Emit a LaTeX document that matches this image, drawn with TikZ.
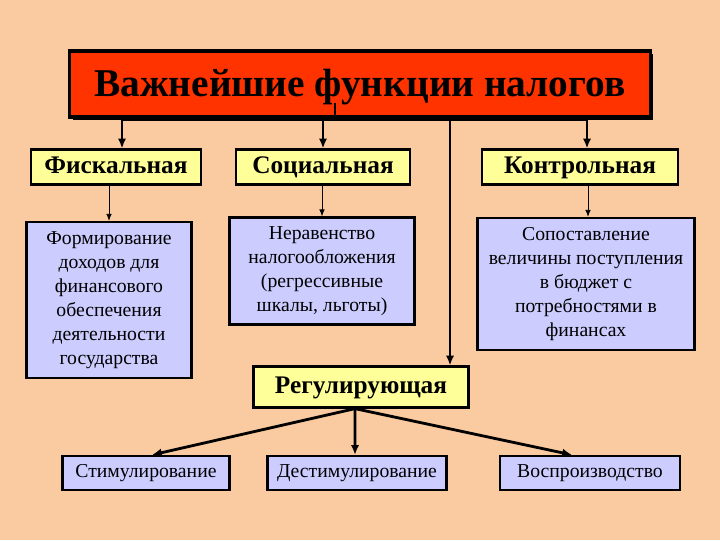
\documentclass[tikz,border=0pt]{standalone}
\usepackage{fontspec}
\setmainfont{Liberation Serif}
\usetikzlibrary{arrows.meta,positioning,shadows}
\definecolor{nlbg}{RGB}{250,202,160}
\definecolor{nlred}{RGB}{255,51,0}
\definecolor{nlyellow}{RGB}{255,255,153}
\definecolor{nllilac}{RGB}{204,204,255}

\begin{document}
\begin{tikzpicture}[
                x=0.025cm, y=-0.025cm,
                title/.style={
                        draw, line width=2.2pt, fill=nlred,
                        minimum width=14.5cm, minimum height=1.65cm,
                        text height=20pt, text depth=2pt,
                        font=\bfseries\fontsize{28}{32}\selectfont,
                        drop shadow={shadow xshift=2pt, shadow yshift=-2pt, fill=black, opacity=1}
                    },
                func/.style={
                        draw, line width=1.6pt, fill=nlyellow,
                        minimum height=0.875cm, inner sep=2pt,
                        text height=12pt, text depth=3pt,
                        font=\bfseries\fontsize{18}{21}\selectfont
                    },
                desc/.style={
                        draw, line width=1.6pt, fill=nllilac,
                        align=center, inner sep=3pt,
                        font=\fontsize{14}{17}\selectfont
                    },
                arr/.style={-{Latex[length=7pt,width=6pt]}, line width=2pt},
                thinarr/.style={-{Latex[length=5pt,width=4pt]}, line width=0.6pt}
                ]
                \fill[nlbg] (0,0) rectangle (720,540);

                \node[title] (title) at (360,84) {Важнейшие функции налогов};

                \node[func, minimum width=4.25cm] (fisk) at (116,167) {Фискальная};
                \node[func, minimum width=4.35cm] (social) at (323,167) {Социальная};
                \node[func, minimum width=4.9cm] (kontrol) at (580,167) {Контрольная};

                \node[desc, minimum width=4.125cm, minimum height=3.9cm] (form) at (109,300)
                    {Формирование\\доходов для\\финансового\\обеспечения\\деятельности\\государства};
                \node[desc, minimum width=4.625cm, minimum height=2.675cm] (nerav) at (322,271)
                    {Неравенство\\налогообложения\\(регрессивные\\шкалы, льготы)};
                \node[desc, minimum width=5.425cm, minimum height=3.3cm] (sopost) at (586,284)
                    {Сопоставление\\величины поступления\\в бюджет с\\потребностями в\\финансах};

                \node[func, minimum width=5.375cm, minimum height=1.025cm] (reg) at (361,387) {Регулирующая};

                \node[desc, minimum width=4.175cm, minimum height=0.85cm] (stim) at (146,473) {Стимулирование};
                \node[desc, minimum width=4.475cm, minimum height=0.85cm] (destim) at (357,473) {Дестимулирование};
                \node[desc, minimum width=4.5cm, minimum height=0.85cm] (vospr) at (590,473) {Воспроизводство};

                % шина под заголовком
                \coordinate (stub) at (335,103);
                \coordinate (hub) at (335,120);
                \coordinate (b1) at (122,120);
                \coordinate (b2) at (323,120);
                \coordinate (b3) at (587,120);
                \coordinate (b4) at (450,120);
                \draw[line width=2pt] (stub) -- (hub);
                \draw[line width=2pt] (b1) -- (b3);
                \draw[arr] (b1) -- (b1 |- fisk.north);
                \draw[arr] (b2) -- (b2 |- social.north);
                \draw[arr] (b3) -- (b3 |- kontrol.north);
                \draw[arr] (b4) -- (b4 |- reg.north);

                \draw[thinarr] (form.north |- fisk.south) -- (form.north);
                \draw[thinarr] (nerav.north |- social.south) -- (nerav.north);
                \draw[thinarr] ([xshift=0.2cm]kontrol.south) -- ([xshift=0.2cm]kontrol.south |- sopost.north);

                \draw[arr] ([xshift=-0.15cm]reg.south) -- ([xshift=0.15cm]stim.north);
                \draw[arr] ([xshift=-0.15cm]reg.south) -- ([xshift=-0.05cm]destim.north);
                \draw[arr] ([xshift=-0.15cm]reg.south) -- ([xshift=-0.45cm]vospr.north);
            \end{tikzpicture}
\end{document}
